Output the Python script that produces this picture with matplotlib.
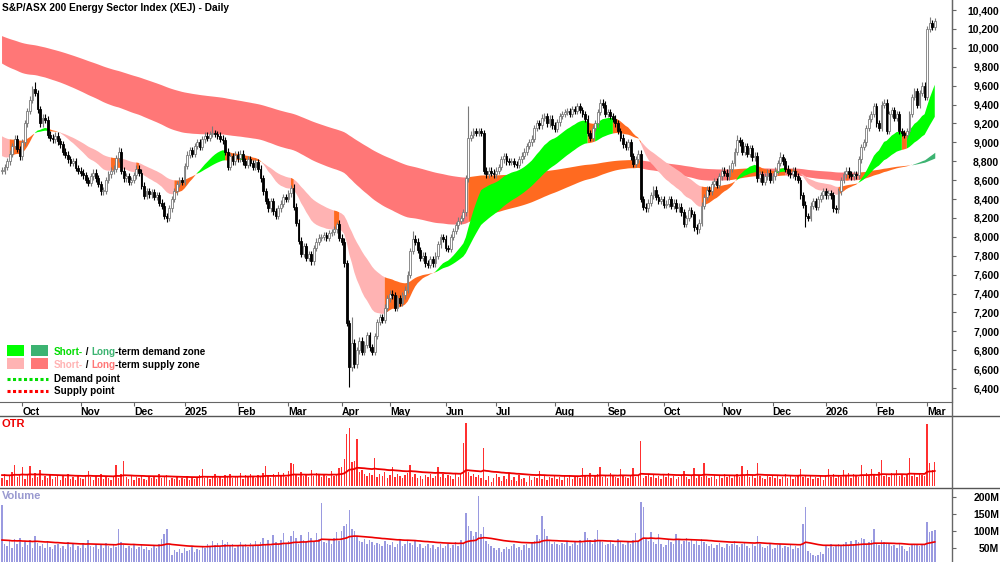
import numpy as np
import pandas as pd
import matplotlib
matplotlib.use('Agg')
import matplotlib.pyplot as plt
from matplotlib.lines import Line2D
from matplotlib.patches import Rectangle

# ---- data --------------------------------------------------------------
holidays = ['2024-12-25', '2024-12-26', '2025-01-01', '2025-01-27', '2025-04-18',
            '2025-04-21', '2025-04-25', '2025-06-09', '2025-12-25', '2025-12-26',
            '2026-01-01', '2026-01-26']

close = [
    8700, 8740, 8800, 8880, 8960, 9040, 8930, 8850, 9000, 9200,
    9330, 9450, 9560, 9520, 9350, 9200, 9260, 9240, 9080, 9050,
    9030, 9070, 9010, 8980, 8900, 8870, 8820, 8780, 8800, 8730,
    8700, 8680, 8650, 8600, 8570, 8640, 8680, 8620, 8560, 8480,
    8490, 8600, 8660, 8700, 8720, 8830, 8900, 8700, 8620, 8640,
    8580, 8600, 8650, 8720, 8680, 8540, 8430, 8480, 8450, 8470,
    8420, 8440, 8360, 8330, 8220, 8200, 8300, 8400, 8480, 8560,
    8600, 8580, 8750, 8870, 8920, 8880, 8960, 9000, 8950, 9030,
    9070, 9050, 9090, 9100, 9090, 9070, 9040, 9020, 8900, 8740,
    8850, 8800, 8870, 8830, 8880, 8800, 8760, 8820, 8780, 8740,
    8790, 8720, 8620, 8480, 8380, 8300, 8380, 8270, 8220, 8300,
    8350, 8420, 8400, 8460, 8520, 8320, 8150, 7960, 7820, 7900,
    7780, 7820, 7740, 7880, 7950, 7990, 8000, 8020, 7990, 8040,
    8050, 8080, 8140, 7990, 7950, 7720, 7090, 6620, 6880, 6650,
    6800, 6900, 6780, 6860, 6960, 6830, 6780, 6950, 7100, 7150,
    7120, 7250, 7350, 7400, 7380, 7250, 7350, 7300, 7380, 7440,
    7600, 7850, 7980, 7950, 7860, 7780, 7800, 7720, 7700, 7760,
    7720, 7800, 7920, 8000, 7980, 7880, 7870, 8000, 8060, 8120,
    8170, 8200, 8260, 8620, 9050, 9080, 9120, 9100, 9120, 9100,
    8700, 8660, 8700, 8680, 8660, 8700, 8740, 8820, 8850, 8800,
    8790, 8800, 8770, 8760, 8820, 8860, 8900, 8960, 9000, 9040,
    9150, 9200, 9180, 9260, 9280, 9200, 9250, 9180, 9140, 9210,
    9280, 9300, 9320, 9330, 9300, 9350, 9330, 9380, 9340, 9300,
    9250, 9100, 9050, 9150, 9200, 9320, 9420, 9400, 9300, 9320,
    9280, 9250, 9200, 9120, 9050, 8980, 8950, 9000, 8850, 8770,
    8820, 8880, 8400, 8320, 8300, 8360, 8440, 8500, 8420, 8380,
    8400, 8340, 8350, 8400, 8330, 8360, 8300, 8320, 8260, 8140,
    8200, 8280, 8240, 8100, 8080, 8150, 8330, 8420, 8500, 8480,
    8560, 8590, 8550, 8640, 8700, 8680, 8640, 8720, 8780, 8900,
    9020, 9000, 8900, 8960, 8880, 8940, 8840, 8860, 8620, 8660,
    8580, 8640, 8680, 8600, 8640, 8700, 8780, 8840, 8800, 8720,
    8680, 8660, 8700, 8640, 8600, 8440, 8340, 8220, 8200, 8330,
    8380, 8320, 8400, 8440, 8480, 8440, 8460, 8440, 8300, 8290,
    8480, 8600, 8660, 8700, 8660, 8640, 8660, 8650, 8820, 8950,
    9000, 9150, 9250, 9300, 9380, 9200, 9150, 9400, 9420, 9120,
    9300, 9340, 9260, 9300, 9120, 9100, 9080, 9120, 9300, 9480,
    9540, 9400, 9520, 9600, 9480, 10200, 10260, 10220, 10280,
]

# wick extremes that stick out noticeably
high_marks = {13: 9640, 46: 8950, 83: 9170, 114: 8550, 132: 8160, 138: 7150,
              162: 8060, 184: 9380, 236: 9460, 290: 9080, 307: 8900, 363: 9640,
              366: 10330}
low_marks = {65: 8160, 137: 6410, 274: 8030, 317: 8100}

# levels of the bands / averages where the chart starts (history before the window)
short_seed = (8870, 9080)
long_seed = (9850, 10135)
otr_seed = 11
vol_seed = 68

otr = [
    8, 12, 6, 10, 14, 21, 9, 12, 19, 7,
    11, 20, 8, 13, 9, 16, 6, 10, 8, 12,
    7, 9, 11, 6, 10, 8, 12, 7, 9, 6,
    10, 8, 7, 11, 15, 9, 6, 10, 8, 12,
    7, 9, 8, 6, 10, 21, 8, 12, 25, 9,
    7, 10, 6, 9, 8, 11, 7, 6, 9, 8,
    10, 7, 12, 8, 9, 11, 6, 8, 7, 9,
    6, 8, 7, 10, 6, 9, 7, 8, 11, 17,
    8, 10, 7, 9, 12, 8, 10, 7, 11, 9,
    12, 8, 10, 9, 13, 7, 11, 9, 12, 10,
    8, 11, 9, 13, 20, 10, 8, 12, 9, 14,
    10, 13, 9, 15, 23, 22, 11, 9, 14, 10,
    12, 9, 16, 10, 13, 11, 9, 12, 10, 8,
    15, 10, 12, 18, 19, 27, 52, 58, 24, 25,
    47, 14, 16, 12, 10, 13, 11, 28, 9, 12,
    10, 14, 8, 11, 19, 9, 12, 10, 8, 11,
    13, 21, 9, 12, 8, 10, 7, 11, 9, 12,
    8, 10, 19, 9, 12, 8, 11, 10, 7, 13,
    9, 12, 43, 63, 14, 10, 12, 9, 11, 8,
    38, 6, 10, 4, 8, 12, 9, 5, 10, 7,
    13, 6, 9, 5, 11, 7, 8, 4, 10, 6,
    9, 8, 15, 7, 10, 6, 9, 8, 11, 7,
    9, 6, 10, 8, 11, 7, 9, 10, 8, 18,
    11, 9, 13, 8, 10, 12, 19, 9, 11, 8,
    13, 10, 9, 8, 17, 11, 9, 8, 10, 18,
    9, 11, 45, 8, 10, 12, 9, 11, 8, 10,
    7, 12, 9, 13, 8, 10, 7, 9, 11, 15,
    9, 7, 10, 18, 8, 11, 9, 23, 10, 8,
    9, 11, 7, 10, 8, 12, 9, 11, 8, 10,
    12, 9, 20, 10, 16, 9, 11, 8, 23, 10,
    8, 7, 10, 9, 11, 8, 10, 7, 9, 12,
    8, 10, 7, 9, 11, 17, 9, 10, 8, 11,
    7, 9, 8, 10, 6, 11, 17, 9, 12, 8,
    10, 9, 16, 11, 13, 8, 12, 10, 9, 21,
    11, 13, 10, 17, 12, 9, 14, 26, 10, 12,
    9, 13, 11, 16, 10, 12, 9, 11, 28, 10,
    12, 9, 13, 11, 10, 62, 23, 16, 24,
]

volume = [  # millions
    176, 62, 55, 70, 48, 75, 60, 80, 52, 66,
    58, 72, 50, 85, 64, 55, 60, 48, 70, 52,
    45, 58, 62, 50, 55, 47, 68, 53, 60, 44,
    56, 50, 63, 48, 72, 55, 52, 60, 46, 58,
    50, 64, 55, 48, 60, 52, 106, 66, 58, 50,
    55, 48, 62, 45, 52, 58, 47, 53, 44, 50,
    56, 48, 60, 75, 90, 105, 62, 30, 42, 38,
    45, 35, 48, 40, 44, 52, 38, 46, 42, 55,
    48, 62, 55, 70, 58, 65, 52, 72, 60, 68,
    55, 62, 50, 58, 66, 54, 60, 52, 63, 57,
    70, 58, 66, 80, 62, 72, 55, 88, 68, 60,
    74, 92, 65, 70, 85, 100, 78, 62, 88, 72,
    66, 96, 80, 70, 92, 75, 182, 68, 64, 72,
    60, 78, 95, 70, 98, 115, 120, 162, 105, 100,
    82, 70, 66, 75, 60, 72, 68, 58, 65, 62,
    55, 70, 62, 58, 66, 52, 60, 75, 55, 62,
    72, 64, 58, 70, 52, 60, 48, 55, 62, 50,
    58, 45, 52, 60, 48, 55, 62, 50, 58, 66,
    55, 72, 60, 152, 115, 100, 85, 95, 203, 90,
    110, 70, 62, 55, 48, 42, 50, 38, 46, 52,
    45, 55, 60, 48, 52, 44, 58, 62, 50, 66,
    70, 88, 75, 144, 106, 85, 72, 60, 68, 62,
    58, 65, 60, 70, 55, 62, 66, 58, 72, 64,
    95, 80, 72, 60, 75, 103, 70, 66, 58, 62,
    70, 60, 55, 75, 68, 62, 58, 66, 60, 72,
    93, 68, 185, 171, 75, 70, 95, 66, 62, 90,
    60, 52, 58, 72, 66, 60, 90, 75, 62, 70,
    80, 68, 72, 62, 70, 58, 75, 66, 60, 55,
    62, 50, 58, 65, 52, 48, 60, 55, 62, 70,
    58, 52, 60, 66, 55, 50, 62, 56, 85, 60,
    52, 48, 55, 60, 45, 50, 58, 62, 48, 55,
    52, 60, 46, 55, 50, 58, 120, 171, 40, 35,
    28, 25, 30, 38, 32, 55, 48, 60, 52, 58,
    62, 55, 60, 66, 58, 70, 62, 72, 66, 80,
    75, 60, 68, 72, 106, 65, 58, 72, 66, 60,
    62, 55, 58, 50, 64, 56, 45, 40, 52, 60,
    58, 62, 55, 60, 58, 126, 95, 98, 102,
]

# ---- derived series ----------------------------------------------------
n = len(close)
days = pd.bdate_range('2024-08-01', '2026-03-05', freq='C', holidays=holidays)[-n:]
x = np.arange(n)
c = np.array(close, dtype=float)
o = np.concatenate([[c[0]], c[:-1]])
hi = np.maximum(o, c) + 35
lo = np.minimum(o, c) - 35
for k, v in high_marks.items():
    hi[k] = v
for k, v in low_marks.items():
    lo[k] = v


def ema(values, period, seed):
    a = 2.0 / (period + 1)
    out, prev = [], seed
    for v in values:
        prev = prev + a * (v - prev)
        out.append(prev)
    return np.array(out)


def band_state(fast, slow, price, edge):
    # 0 supply, 1 mixed, 2 demand
    bull = fast >= slow
    return np.where(bull & (price >= edge), 2, np.where(~bull & (price <= edge), 0, 1))


s_fast, s_slow = ema(c, 20, short_seed[0]), ema(c, 45, short_seed[1])
l_fast, l_slow = ema(c, 140, long_seed[0]), ema(c, 260, long_seed[1])

vol = np.array(volume) * 1e6
vol_ma = ema(vol, 45, vol_seed * 1e6)
otr_ma = ema(np.array(otr, dtype=float), 45, otr_seed)

# ---- figure ------------------------------------------------------------
W, H = 1000, 562
plt.rcParams['font.family'] = ['Liberation Sans', 'DejaVu Sans']
fig = plt.figure(figsize=(W / 100, H / 100), dpi=100)


def box(top, bottom, right=952):
    return [0, 1 - bottom / H, right / W, (bottom - top) / H]


ax = fig.add_axes(box(0, 402))
ax_o = fig.add_axes(box(416, 488))
ax_v = fig.add_axes(box(488, 562))

XL = (-0.8, 374.8)

# bands
orange = '#ff6a20'
short_cols = ['#ffb3b3', orange, '#00ff00']
long_cols = ['#ff7777', orange, '#3cb371']
for fast, slow, edge, cols in [(l_fast, l_slow, l_slow, long_cols), (s_fast, s_slow, s_fast, short_cols)]:
    st = band_state(fast, slow, c, edge)
    for s in range(3):
        m = st == s
        m = m | np.concatenate([[False], m[:-1]])
        ax.fill_between(x, fast, slow, where=m, color=cols[s], lw=0, interpolate=False)

# candles
up = c >= o
edge = np.where(up, '#7a7a7a', '#000000')
ax.vlines(x, lo, hi, colors=edge, lw=0.8, zorder=3)
body = np.maximum(np.abs(c - o), 12)
ax.bar(x, body, bottom=np.minimum(o, c), width=0.72,
       color=np.where(up, '#ffffff', '#000000'), edgecolor=edge, lw=0.6, zorder=4)

ax.set_xlim(*XL)
ax.set_ylim(6252, 10506)
for s in ['left', 'top']:
    ax.spines[s].set_visible(False)
ax.spines['right'].set_color('#666666')
ax.spines['bottom'].set_color('#666666')
ax.yaxis.tick_right()
yt = np.arange(6400, 10401, 200)
ax.set_yticks(yt, [f'{v:,}' for v in yt])
ax.tick_params(axis='y', direction='out', length=3, pad=31, labelsize=7.5, color='#666666')
for t in ax.get_yticklabels():
    t.set_horizontalalignment('right')
    t.set_fontweight('bold')

months = pd.Series(days.month)
pos = [i for i in range(1, n) if months[i] != months[i - 1]]
labs = [str(days[i].year) if days[i].month == 1 else days[i].strftime('%b') for i in pos]
ax.set_xticks(pos, labs)
ax.tick_params(axis='x', direction='out', length=3, pad=0.5, labelsize=7.5, color='#666666')
for t in ax.get_xticklabels():
    t.set_horizontalalignment('left')
    t.set_fontweight('bold')

ax.text(2 / W, 1 - 3 / H, 'S&P/ASX 200 Energy Sector Index (XEJ) - Daily', transform=fig.transFigure,
        ha='left', va='top', fontsize=7.3, fontweight='bold')


# legend
def rich(x_px, y_px, parts):
    t = ax.text(x_px / W, 1 - y_px / H, parts[0][0], color=parts[0][1], transform=fig.transFigure,
                ha='left', va='bottom', fontsize=7.1, fontweight='bold')
    for s, col in parts[1:]:
        t = ax.annotate(s, xy=(1, 0), xycoords=t, ha='left', va='bottom', color=col,
                        fontsize=7.1, fontweight='bold', annotation_clip=False)


rows = [357, 370, 384, 396]
for (col1, col2), y in zip([(short_cols[2], long_cols[2]), (short_cols[0], long_cols[0])], rows[:2]):
    for xs, col in [(7, col1), (31, col2)]:
        fig.add_artist(Rectangle((xs / W, 1 - (y - 1) / H), 17 / W, 11 / H, transform=fig.transFigure,
                                 color=col, lw=0))
rich(54, rows[0], [('Short-', '#00dd00'), (' / ', 'black'), ('Long', long_cols[2]),
                   ('-term demand zone', 'black')])
rich(54, rows[1], [('Short-', short_cols[0]), (' / ', 'black'), ('Long', long_cols[0]),
                   ('-term supply zone', 'black')])
for y, col, lab in [(rows[2], '#00dd00', 'Demand point'), (rows[3], '#ff0000', 'Supply point')]:
    fig.add_artist(Line2D([7 / W, 48 / W], [1 - (y - 5) / H] * 2, transform=fig.transFigure,
                          color=col, lw=2.2, ls=(0, (1, 0.8))))
    rich(54, y, [(lab, 'black')])

# OTR panel
ax_o.bar(x, otr, width=0.55, color='#ff3030', lw=0)
ax_o.plot(x, otr_ma, color='#ee0000', lw=1.3)
ax_o.set_xlim(*XL)
ax_o.set_ylim(-2, 70)
ax_o.axis('off')
ax_o.text(2 / W, 1 - 419 / H, 'OTR', transform=fig.transFigure, ha='left', va='top',
          color='#ee0000', fontsize=8, fontweight='bold')

# volume panel
ax_v.bar(x, vol, width=0.6, color='#9a9ae0', lw=0)
ax_v.plot(x, vol_ma, color='#ee0000', lw=1.2)
ax_v.set_xlim(*XL)
ax_v.set_ylim(8e6, 226e6)
for s in ['left', 'top', 'bottom', 'right']:
    ax_v.spines[s].set_visible(False)
ax_v.set_xticks([])
ax_v.yaxis.tick_right()
vt = [50e6, 100e6, 150e6, 200e6]
ax_v.set_yticks(vt, [f'{int(v / 1e6)}M' for v in vt])
ax_v.tick_params(axis='y', direction='out', length=3, pad=31, labelsize=7.5, color='#666666')
for t in ax_v.get_yticklabels():
    t.set_horizontalalignment('right')
    t.set_fontweight('bold')
ax_v.text(2 / W, 1 - 491 / H, 'Volume', transform=fig.transFigure, ha='left', va='top',
          color='#9a9ad0', fontsize=8, fontweight='bold')

# separators
for yy in [416, 488]:
    fig.add_artist(Line2D([0, 1], [1 - yy / H] * 2, transform=fig.transFigure, color='#555555', lw=1))
fig.add_artist(Line2D([952 / W] * 2, [0, 1], transform=fig.transFigure, color='#666666', lw=1))

fig.savefig('out.png', dpi=100)
